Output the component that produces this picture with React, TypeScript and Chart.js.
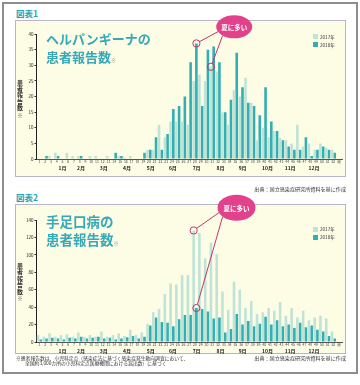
import React, { useEffect, useRef } from 'react';
import { Chart, registerables } from 'chart.js';

Chart.register(...registerables);

const FONT = '"Noto Sans CJK JP", "Noto Sans", sans-serif';
Chart.defaults.font.family = FONT;

// ---- data ----
const weekLabels = [
  '1', '2', '3', '4', '5', '6', '7', '8', '9', '10', '11', '12', '13',
  '14', '15', '16', '17', '18', '19', '20', '21', '22', '23', '24', '25', '26',
  '27', '28', '29', '30', '31', '32', '33', '34', '35', '36', '37', '38', '39',
  '40', '41', '42', '43', '44', '45', '46', '47', '48', '49', '50', '51', '52', '週',
];
const monthLabels = ['1月', '2月', '3月', '4月', '5月', '6月', '7月', '8月', '9月', '10月', '11月', '12月'];
const monthCenterWeeks = [3, 6.5, 10.8, 15.2, 19.7, 23.9, 28.4, 32.9, 37.1, 41.8, 46.1, 50.6];
const seriesNames = ['2017年', '2018年'];

const herpangina2017 = [
  0, 0, 1, 2, 0, 2, 1, 1, 0, 1, 1, 0, 1, 0, 1, 0.5, 1, 0, 0, 3, 3, 11, 7, 12, 12, 12,
  11, 25, 27, 25, 29.5, 28, 15, 11, 22, 20, 26, 18, 6, 10, 7, 9, 6.7, 6, 5, 11, 4, 5, 3, 5, 3.5, 3,
];
const herpangina2018 = [
  0, 1, 0, 1, 0, 0, 0, 1, 0, 0, 0, 0, 0, 2, 1, 0, 0, 0, 2, 3, 7, 3, 8, 16, 17, 20,
  31, 37, 17, 35, 36, 31, 15, 19, 34, 23, 18, 17, 14, 23, 12, 9, 6, 4, 3, 3, 7, 1, 3, 4, 3, 2,
];
const hfmd2017 = [
  8, 6, 10, 6, 8, 9, 6, 11, 6, 8, 6, 12, 6, 8, 10, 7, 14, 8, 11, 21, 34, 38, 55, 67, 66, 77,
  77, 128, 125, 96, 114, 101, 58, 37, 69, 60, 39, 47, 32, 34, 39, 36, 46, 30, 39, 28, 36, 25, 28, 30, 27, 12,
];
const hfmd2018 = [
  3, 4, 5, 4, 3, 5, 4, 6, 4, 5, 6, 4, 5, 3, 4, 5.5, 7, 4, 6, 19, 28, 23, 22, 18, 26, 31,
  31, 39, 38, 35, 27, 28, 11, 15, 32, 20, 24, 18, 21, 29, 20, 25, 18, 20, 16, 22, 17, 19, 14, 12, 7, 4,
];
const herpanginaTicks = { max: 40, step: 5 };
const hfmdTicks = { max: 140, step: 20 };

// ---- styles ----
const C2017 = '#c0e3d7';
const C2018 = '#33aeb3';
const TEAL = '#36a8b8';
const MAGENTA = '#e2428b';
const MAGENTA_LINE = '#c2346f';

const calloutPlugin = {
  id: 'callout',
  afterDraw(chart: any, _args: any, opts: any) {
    if (!opts || !opts.targets) return;
    const { ctx } = chart;
    const xs = chart.scales.x;
    const ys = chart.scales.y;
    const cx = xs.getPixelForValue(opts.week - 1);
    const cy = ys.getPixelForValue(opts.value);
    const r = 3.6;
    ctx.save();
    ctx.strokeStyle = MAGENTA_LINE;
    ctx.lineWidth = 1;
    opts.targets.forEach((t: any) => {
      const el = chart.getDatasetMeta(t.dataset).data[t.index];
      const tx = el.x;
      const ty = el.y;
      const a = (t.angle * Math.PI) / 180;
      const sx = cx + opts.rx * Math.cos(a);
      const sy = cy + opts.ry * Math.sin(a);
      const dx = tx - sx;
      const dy = ty - sy;
      const d = Math.hypot(dx, dy);
      ctx.beginPath();
      ctx.moveTo(sx, sy);
      ctx.lineTo(tx - (dx / d) * r, ty - (dy / d) * r);
      ctx.stroke();
      ctx.beginPath();
      ctx.arc(tx, ty, r, 0, Math.PI * 2);
      ctx.stroke();
    });
    ctx.beginPath();
    ctx.ellipse(cx, cy, opts.rx, opts.ry, 0, 0, Math.PI * 2);
    ctx.fillStyle = MAGENTA;
    ctx.fill();
    ctx.fillStyle = '#ffffff';
    ctx.font = `bold 6.5px ${FONT}`;
    ctx.textAlign = 'center';
    ctx.textBaseline = 'middle';
    ctx.fillText(opts.text, cx, cy + 0.5);
    ctx.restore();
  },
};

type PanelProps = {
  top: number;
  height: number;
  padTop: number;
  d2017: number[];
  d2018: number[];
  yMax: number;
  yStep: number;
  callout: any;
};

function BarPanel({ top, height, padTop, d2017, d2018, yMax, yStep, callout }: PanelProps) {
  const ref = useRef<HTMLCanvasElement | null>(null);
  useEffect(() => {
    if (!ref.current) return;
    const barOpts = { categoryPercentage: 0.95, barPercentage: 0.95 };
    const chart = new Chart(ref.current, {
      type: 'bar',
      data: {
        labels: weekLabels,
        datasets: [
          { label: seriesNames[0], data: [...d2017, null], backgroundColor: C2017, ...barOpts },
          { label: seriesNames[1], data: [...d2018, null], backgroundColor: C2018, ...barOpts },
        ],
      },
      options: {
        animation: false,
        responsive: false,
        events: [],
        layout: { padding: { left: 16.5, right: 18, top: padTop, bottom: 0 } },
        plugins: {
          legend: { display: false },
          tooltip: { enabled: false },
          callout,
        } as any,
        scales: {
          x: {
            type: 'category',
            position: 'bottom',
            weight: 0,
            grid: { display: false, drawTicks: false },
            border: { display: true, color: '#555', width: 1 },
            ticks: {
              autoSkip: false,
              maxRotation: 0,
              minRotation: 0,
              padding: 1,
              font: { size: 3.5 },
              color: '#444',
            },
            afterFit: (s: any) => {
              s.height = 5;
            },
          },
          month: {
            type: 'linear',
            position: 'bottom',
            weight: 1,
            min: 0.5,
            max: 53.5,
            bounds: 'data',
            grid: { display: false, drawTicks: false },
            border: { display: false },
            afterBuildTicks: (s: any) => {
              s.ticks = monthCenterWeeks.map((v) => ({ value: v }));
            },
            ticks: {
              autoSkip: false,
              maxRotation: 0,
              minRotation: 0,
              padding: 1,
              font: { size: 5, weight: 'bold' },
              color: '#222',
              callback: (_v: any, i: number) => monthLabels[i],
            },
            afterFit: (s: any) => {
              s.height = 21;
            },
          },
          y: {
            min: 0,
            max: yMax,
            ticks: { stepSize: yStep, padding: 1, font: { size: 4.5 }, color: '#222' },
            grid: { display: true, drawOnChartArea: false, tickLength: 2, color: '#333' },
            border: { display: true, color: '#222', width: 1 },
            afterFit: (s: any) => {
              s.width = 20;
            },
          },
        } as any,
      },
      plugins: [calloutPlugin],
    } as any);
    return () => chart.destroy();
  }, []);
  return (
    <canvas
      ref={ref}
      width={360}
      height={height}
      style={{ position: 'absolute', left: 0, top, width: 360, height }}
    />
  );
}

const abs = (s: React.CSSProperties): React.CSSProperties => ({ position: 'absolute', ...s });

function PanelText({ top, title1, titleSize, yTitleTop, legendTop }: any) {
  return (
    <>
      <div
        style={abs({
          left: 46,
          top,
          fontSize: titleSize,
          fontWeight: 'bold',
          lineHeight: '17.5px',
          color: TEAL,
          whiteSpace: 'nowrap',
        })}
      >
        {title1}
        <br />
        患者報告数<span style={{ fontSize: 5, color: '#888', fontWeight: 'normal' }}>※</span>
      </div>
      <div
        style={abs({
          left: 16,
          width: 8,
          top: yTitleTop,
          fontSize: 6,
          lineHeight: '6.4px',
          fontWeight: 'bold',
          color: '#333',
          textAlign: 'center',
        })}
      >
        {['患', '者', '報', '告', '数'].map((c) => (
          <div key={c}>{c}</div>
        ))}
        <div style={{ fontSize: 4.5, fontWeight: 'normal' }}>※</div>
      </div>
      {[0, 1].map((i) => (
        <React.Fragment key={i}>
          <div
            style={abs({
              left: 313,
              top: legendTop + i * 8.2,
              width: 5,
              height: 5,
              background: i === 0 ? C2017 : C2018,
            })}
          />
          <div
            style={abs({
              left: 320,
              top: legendTop + i * 8.2 - 0.5,
              fontSize: 4.6,
              lineHeight: '6px',
              color: '#333',
              whiteSpace: 'nowrap',
            })}
          >
            {seriesNames[i]}
          </div>
        </React.Fragment>
      ))}
    </>
  );
}

export default function App() {
  const figLabel: React.CSSProperties = {
    left: 16,
    fontSize: 8.5,
    fontWeight: 'bold',
    lineHeight: '10px',
    color: '#2a9fb0',
  };
  const small: React.CSSProperties = { fontSize: 5.1, lineHeight: '6px', color: '#333', whiteSpace: 'nowrap' };
  return (
    <div
      style={{
        position: 'fixed',
        left: 0,
        top: 0,
        width: 360,
        height: 385,
        background: '#fff',
        overflow: 'hidden',
        fontFamily: FONT,
      }}
    >
      <div
        style={abs({
          left: 2,
          top: 2,
          width: 356,
          height: 372,
          border: '2px solid #8d8d8d',
          boxSizing: 'border-box',
        })}
      />
      <div style={abs({ ...figLabel, top: 7.5 })}>図表1</div>
      <div
        style={abs({
          left: 15,
          top: 20,
          width: 331,
          height: 157,
          border: '1px solid #b9b4ca',
          background: '#fdfde6',
          boxSizing: 'border-box',
        })}
      />
      <div style={abs({ ...figLabel, top: 191.5 })}>図表2</div>
      <div
        style={abs({
          left: 15,
          top: 204,
          width: 331,
          height: 150,
          border: '1px solid #b9b4ca',
          background: '#fdfde6',
          boxSizing: 'border-box',
        })}
      />
      <BarPanel
        top={0}
        height={185}
        padTop={34}
        d2017={herpangina2017}
        d2018={herpangina2018}
        yMax={herpanginaTicks.max}
        yStep={herpanginaTicks.step}
        callout={{
          text: '夏に多い',
          week: 34.8,
          value: 42.3,
          rx: 18,
          ry: 11.5,
          targets: [
            { dataset: 1, index: 27, angle: 155 },
            { dataset: 0, index: 30, angle: 130 },
          ],
        }}
      />
      <BarPanel
        top={186}
        height={182}
        padTop={34}
        d2017={hfmd2017}
        d2018={hfmd2018}
        yMax={hfmdTicks.max}
        yStep={hfmdTicks.step}
        callout={{
          text: '夏に多い',
          week: 35.2,
          value: 154,
          rx: 19,
          ry: 13,
          targets: [
            { dataset: 0, index: 27, angle: 158 },
            { dataset: 1, index: 27, angle: 137 },
          ],
        }}
      />
      <PanelText top={30.2} title1="ヘルパンギーナの" titleSize={13} yTitleTop={79.5} legendTop={34} />
      <PanelText top={213.2} title1="手足口病の" titleSize={13.5} yTitleTop={263} legendTop={226.5} />
      <div style={abs({ ...small, right: 14, top: 185.5, textAlign: 'right' })}>
        出典：国立感染症研究所資料を基に作成
      </div>
      <div style={abs({ ...small, right: 14, top: 355, textAlign: 'right' })}>
        出典：国立感染症研究所資料を基に作成
      </div>
      <div style={abs({ left: 16, top: 355, fontSize: 4.8, lineHeight: '5.2px', color: '#333', whiteSpace: 'nowrap' })}>
        <div>※患者報告数は、小児科定点（感染症法に基づく感染症発生動向調査において、</div>
        <div style={{ paddingLeft: 9 }}>全国約3,000カ所の小児科定点医療機関における届出数）に基づく</div>
      </div>
    </div>
  );
}
